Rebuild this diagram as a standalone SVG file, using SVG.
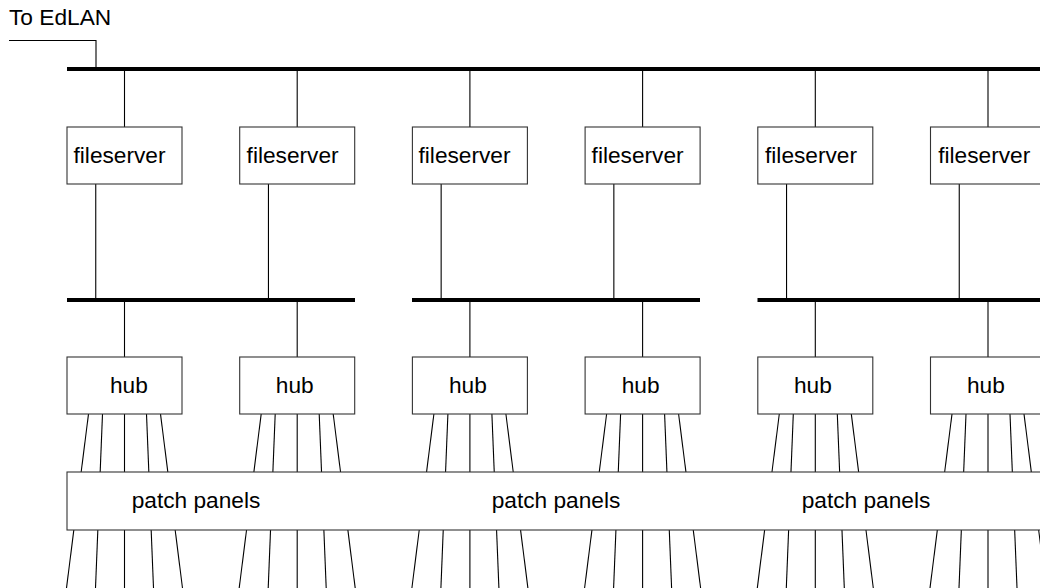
<svg xmlns="http://www.w3.org/2000/svg" width="1040" height="588" viewBox="0 0 1040 588">
<style>
.bus{stroke:#000;stroke-width:4;fill:none}
.ln{stroke:#000;stroke-width:1.1;fill:none}
.box{fill:#fff;stroke:#333;stroke-width:1.1}
.t{font-family:"Liberation Sans",Arial,sans-serif;font-size:22.7px;fill:#000}
</style>
<rect width="1040" height="588" fill="#fff"/>
<g id="connectors">
<polyline class="ln" points="9,40.5 96,40.5 96,69"/>
<line class="bus" x1="67" y1="69" x2="1045" y2="69"/>
<line class="bus" x1="67" y1="300" x2="355" y2="300"/>
<line class="bus" x1="412" y1="300" x2="700" y2="300"/>
<line class="bus" x1="757.5" y1="300" x2="1045" y2="300"/>
<line class="ln" x1="124.5" y1="69" x2="124.5" y2="127"/>
<line class="ln" x1="297.2" y1="69" x2="297.2" y2="127"/>
<line class="ln" x1="469.9" y1="69" x2="469.9" y2="127"/>
<line class="ln" x1="642.6" y1="69" x2="642.6" y2="127"/>
<line class="ln" x1="815.3" y1="69" x2="815.3" y2="127"/>
<line class="ln" x1="988" y1="69" x2="988" y2="127"/>
<line class="ln" x1="95.75" y1="184" x2="95.75" y2="300"/>
<line class="ln" x1="268.45" y1="184" x2="268.45" y2="300"/>
<line class="ln" x1="441.15" y1="184" x2="441.15" y2="300"/>
<line class="ln" x1="613.85" y1="184" x2="613.85" y2="300"/>
<line class="ln" x1="786.55" y1="184" x2="786.55" y2="300"/>
<line class="ln" x1="959.25" y1="184" x2="959.25" y2="300"/>
<line class="ln" x1="124.5" y1="300" x2="124.5" y2="357"/>
<line class="ln" x1="297.2" y1="300" x2="297.2" y2="357"/>
<line class="ln" x1="469.9" y1="300" x2="469.9" y2="357"/>
<line class="ln" x1="642.6" y1="300" x2="642.6" y2="357"/>
<line class="ln" x1="815.3" y1="300" x2="815.3" y2="357"/>
<line class="ln" x1="988" y1="300" x2="988" y2="357"/>
<g id="cables-hub1" transform="translate(124.5,0)">
<line class="ln" x1="-36" y1="414" x2="-58" y2="588"/><line class="ln" x1="-22" y1="414" x2="-29" y2="588"/><line class="ln" x1="0" y1="414" x2="0" y2="588"/><line class="ln" x1="22" y1="414" x2="29" y2="588"/><line class="ln" x1="36" y1="414" x2="58" y2="588"/>
</g>
<g id="cables-hub2" transform="translate(297.2,0)">
<line class="ln" x1="-36" y1="414" x2="-58" y2="588"/><line class="ln" x1="-22" y1="414" x2="-29" y2="588"/><line class="ln" x1="0" y1="414" x2="0" y2="588"/><line class="ln" x1="22" y1="414" x2="29" y2="588"/><line class="ln" x1="36" y1="414" x2="58" y2="588"/>
</g>
<g id="cables-hub3" transform="translate(469.9,0)">
<line class="ln" x1="-36" y1="414" x2="-58" y2="588"/><line class="ln" x1="-22" y1="414" x2="-29" y2="588"/><line class="ln" x1="0" y1="414" x2="0" y2="588"/><line class="ln" x1="22" y1="414" x2="29" y2="588"/><line class="ln" x1="36" y1="414" x2="58" y2="588"/>
</g>
<g id="cables-hub4" transform="translate(642.6,0)">
<line class="ln" x1="-36" y1="414" x2="-58" y2="588"/><line class="ln" x1="-22" y1="414" x2="-29" y2="588"/><line class="ln" x1="0" y1="414" x2="0" y2="588"/><line class="ln" x1="22" y1="414" x2="29" y2="588"/><line class="ln" x1="36" y1="414" x2="58" y2="588"/>
</g>
<g id="cables-hub5" transform="translate(815.3,0)">
<line class="ln" x1="-36" y1="414" x2="-58" y2="588"/><line class="ln" x1="-22" y1="414" x2="-29" y2="588"/><line class="ln" x1="0" y1="414" x2="0" y2="588"/><line class="ln" x1="22" y1="414" x2="29" y2="588"/><line class="ln" x1="36" y1="414" x2="58" y2="588"/>
</g>
<g id="cables-hub6" transform="translate(988,0)">
<line class="ln" x1="-36" y1="414" x2="-58" y2="588"/><line class="ln" x1="-22" y1="414" x2="-29" y2="588"/><line class="ln" x1="0" y1="414" x2="0" y2="588"/><line class="ln" x1="22" y1="414" x2="29" y2="588"/><line class="ln" x1="36" y1="414" x2="58" y2="588"/>
</g>
</g>
<text class="t" x="9" y="25">To EdLAN</text>
<g id="fs1"><rect class="box" x="67" y="127" width="115" height="57"/><text class="t" x="73.5" y="163">fileserver</text></g>
<g id="fs2"><rect class="box" x="239.7" y="127" width="115" height="57"/><text class="t" x="246.6" y="163">fileserver</text></g>
<g id="fs3"><rect class="box" x="412.4" y="127" width="115" height="57"/><text class="t" x="418.5" y="163">fileserver</text></g>
<g id="fs4"><rect class="box" x="585.1" y="127" width="115" height="57"/><text class="t" x="591.6" y="163">fileserver</text></g>
<g id="fs5"><rect class="box" x="757.8" y="127" width="115" height="57"/><text class="t" x="765" y="163">fileserver</text></g>
<g id="fs6"><rect class="box" x="930.5" y="127" width="115" height="57"/><text class="t" x="938.2" y="163">fileserver</text></g>
<g id="hub1"><rect class="box" x="67" y="357" width="115" height="57"/><text class="t" x="110" y="393">hub</text></g>
<g id="hub2"><rect class="box" x="239.7" y="357" width="115" height="57"/><text class="t" x="275.8" y="393">hub</text></g>
<g id="hub3"><rect class="box" x="412.4" y="357" width="115" height="57"/><text class="t" x="449" y="393">hub</text></g>
<g id="hub4"><rect class="box" x="585.1" y="357" width="115" height="57"/><text class="t" x="621.7" y="393">hub</text></g>
<g id="hub5"><rect class="box" x="757.8" y="357" width="115" height="57"/><text class="t" x="794" y="393">hub</text></g>
<g id="hub6"><rect class="box" x="930.5" y="357" width="115" height="57"/><text class="t" x="967" y="393">hub</text></g>
<g id="patchpanels">
<rect class="box" x="67" y="472" width="990" height="58"/>
<text class="t" x="131.7" y="508">patch panels</text>
<text class="t" x="491.7" y="508">patch panels</text>
<text class="t" x="801.7" y="508">patch panels</text>
</g>
</svg>
